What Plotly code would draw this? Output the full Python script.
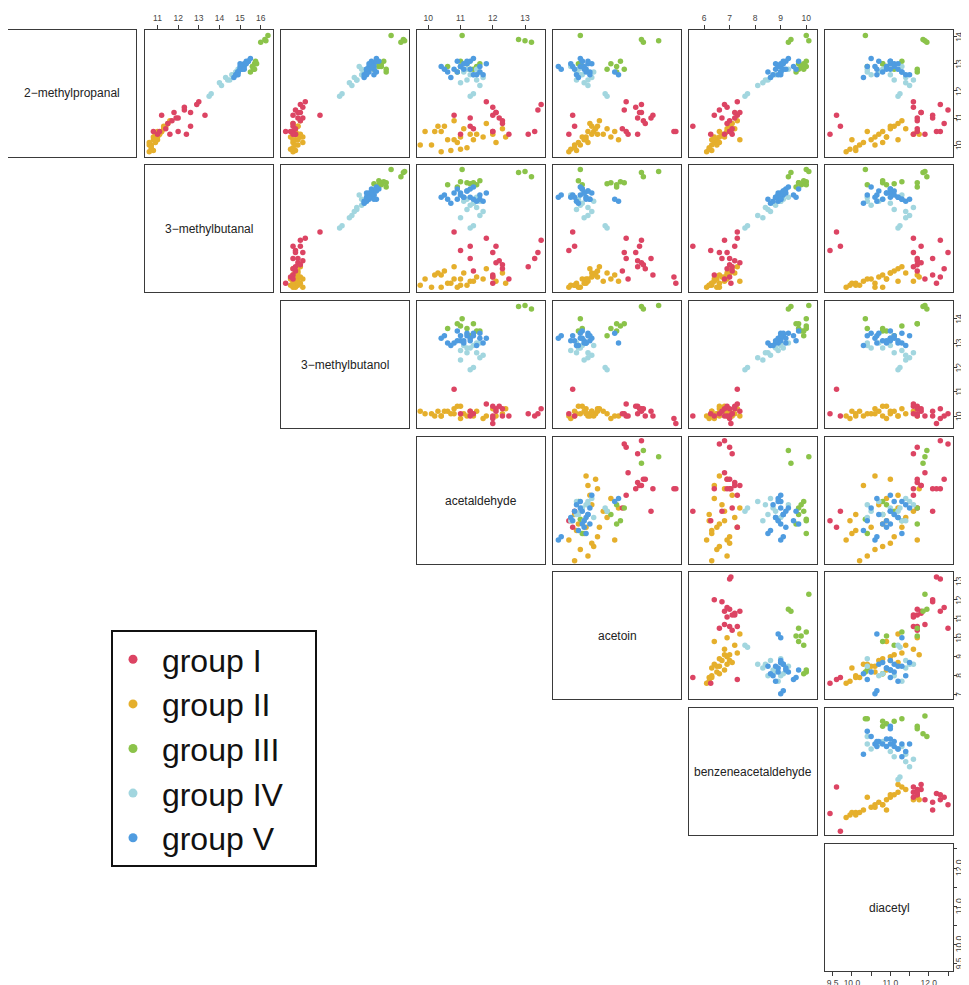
import plotly.graph_objects as go

# ---------------- data ----------------
VARIABLES = ["2−methylpropanal", "3−methylbutanal", "3−methylbutanol", "acetaldehyde",
             "acetoin", "benzeneacetaldehyde", "diacetyl"]
GROUPS = ["group I", "group II", "group III", "group IV", "group V"]
COLORS = {"group I": "#DC4463", "group II": "#E5AF2C", "group III": "#8BC34A",
          "group IV": "#A2D6DF", "group V": "#4F9CE0"}

methylpropanal_2 = {
    "group I": [11.1, 10.4, 10.7, 11.5, 11.3, 10.5, 10.4, 11.0, 11.2, 11.4, 10.9, 11.1, 10.5, 10.5, 11.6, 11.0, 10.8, 10.6, 11.2, 10.4],
    "group II": [9.75, 9.85, 9.8, 10.0, 10.1, 10.2, 10.3, 10.4, 10.5, 10.3, 10.6, 10.7, 10.8, 10.9, 10.5, 10.4, 10.5, 10.4, 10.0, 10.2, 10.6, 10.1, 10.3, 9.9, 10.7, 10.2],
    "group III": [14.05, 13.9, 13.85, 13.8, 13.0, 12.9, 12.8, 13.1, 12.7, 12.9, 13.0, 12.8],
    "group IV": [11.8, 11.9, 12.2, 12.3, 12.4, 12.6, 12.7, 12.8, 12.5, 12.9, 12.6, 12.8, 12.4, 12.7],
    "group V": [12.9, 12.8, 12.6, 12.7, 12.5, 12.9, 13.0, 13.1, 12.8, 12.7, 13.2, 12.6, 13.0, 12.9, 12.8, 12.7, 13.1, 12.9, 12.8, 13.0, 12.6, 13.1],
}
methylbutanal_3 = {
    "group I": [13.3, 12.4, 12.6, 12.9, 12.3, 12.0, 11.6, 11.9, 11.8, 12.3, 11.7, 11.2, 11.1, 10.8, 13.0, 12.0, 11.5, 11.4, 12.6, 11.0],
    "group II": [10.6, 10.7, 10.8, 10.7, 10.9, 11.0, 10.8, 11.1, 11.2, 11.0, 11.3, 11.4, 11.5, 11.6, 11.0, 10.9, 11.2, 11.1, 10.6, 10.8, 11.3, 10.6, 11.0, 10.7, 11.3, 10.9],
    "group III": [16.35, 16.2, 16.25, 16.0, 15.7, 15.6, 15.65, 15.75, 15.5, 15.6, 15.8, 15.7],
    "group IV": [13.5, 13.6, 14.1, 14.0, 14.4, 14.6, 14.8, 15.0, 14.3, 15.1, 14.7, 14.9, 14.5, 14.8],
    "group V": [15.0, 15.1, 14.8, 14.9, 14.7, 15.2, 15.3, 15.4, 15.0, 14.9, 15.5, 14.8, 15.2, 15.1, 15.0, 14.9, 15.3, 15.1, 15.2, 15.0, 14.9, 15.4],
}
methylbutanol_3 = {
    "group I": [11.1, 10.1, 10.0, 10.3, 10.1, 10.0, 10.1, 10.4, 10.2, 10.4, 10.3, 10.0, 9.9, 9.7, 10.5, 10.2, 10.0, 10.1, 10.3, 10.0],
    "group II": [10.0, 9.9, 10.1, 10.2, 10.0, 10.1, 10.3, 10.2, 10.0, 10.4, 10.1, 10.2, 10.0, 10.3, 10.1, 10.2, 10.0, 10.3, 10.1, 10.2, 10.1, 10.4, 9.9, 10.0, 10.2, 10.0],
    "group III": [14.0, 14.5, 14.55, 14.4, 13.6, 13.5, 13.3, 13.7, 13.8, 13.6, 13.5, 13.8],
    "group IV": [11.9, 12.0, 12.4, 12.3, 12.6, 12.8, 12.9, 13.0, 12.5, 12.7, 12.9, 12.8, 12.6, 13.0],
    "group V": [13.2, 13.3, 13.0, 13.4, 12.9, 13.1, 13.3, 13.2, 13.0, 13.1, 13.4, 12.9, 13.2, 13.3, 13.1, 13.0, 13.4, 13.2, 13.0, 13.1, 13.3, 13.5],
}
acetaldehyde = {
    "group I": [10.8, 11.0, 11.3, 13.5, 13.4, 13.3, 13.1, 12.2, 12.1, 12.0, 12.3, 12.0, 12.0, 12.0, 11.8, 11.3, 12.3, 11.4, 12.1, 12.5],
    "group II": [10.4, 11.0, 10.7, 9.75, 12.1, 10.8, 12.4, 11.5, 10.2, 11.0, 12.3, 10.5, 11.8, 10.8, 9.9, 11.3, 10.4, 12.0, 10.1, 10.6, 11.1, 10.9, 11.7, 11.2, 10.3, 11.4],
    "group III": [11.05, 12.8, 13.0, 13.2, 11.2, 11.5, 11.3, 11.0, 10.9, 10.6, 11.6, 11.4],
    "group IV": [11.3, 11.4, 11.6, 11.0, 11.2, 11.3, 11.1, 11.5, 11.7, 11.0, 11.4, 11.2, 11.5, 11.6],
    "group V": [10.4, 10.5, 11.7, 11.6, 10.7, 11.0, 11.2, 11.3, 11.1, 10.9, 11.4, 11.5, 11.8, 11.0, 11.3, 10.6, 11.2, 11.6, 10.8, 11.1, 11.4, 10.9],
}
acetoin = {
    "group I": [7.8, 7.6, 7.9, 11.4, 10.5, 10.6, 11.2, 11.2, 11.4, 11.1, 11.5, 12.0, 13.1, 13.2, 10.6, 11.9, 11.6, 10.4, 11.3, 10.7],
    "group II": [7.6, 7.7, 8.0, 7.9, 8.6, 8.5, 8.5, 8.8, 8.9, 8.3, 9.0, 9.1, 8.7, 9.2, 8.6, 9.4, 10.0, 9.1, 8.2, 8.4, 9.6, 8.1, 9.8, 7.9, 8.8, 10.2],
    "group III": [8.2, 11.4, 12.3, 11.5, 9.8, 10.1, 9.6, 10.3, 10.1, 8.3, 8.1, 10.5],
    "group IV": [9.6, 9.5, 8.6, 8.4, 8.0, 8.2, 8.9, 8.5, 8.8, 7.7, 8.3, 8.1, 8.6, 8.0],
    "group V": [7.05, 7.2, 10.2, 10.0, 8.1, 8.4, 8.6, 8.3, 8.5, 8.7, 8.2, 8.0, 8.8, 7.8, 7.9, 8.5, 8.6, 8.2, 8.4, 7.7, 8.7, 8.3],
}
benzeneacetaldehyde = {
    "group I": [7.3, 6.26, 5.56, 6.8, 6.6, 7.0, 7.1, 7.2, 7.4, 6.9, 7.0, 6.4, 7.0, 7.05, 7.3, 6.7, 6.9, 7.1, 7.2, 6.8],
    "group II": [6.1, 6.2, 6.3, 6.3, 6.4, 6.5, 6.6, 6.7, 6.6, 6.8, 6.9, 7.0, 7.1, 7.3, 6.9, 6.8, 6.9, 6.8, 6.5, 6.3, 7.2, 6.6, 6.4, 6.2, 7.0, 7.4],
    "group III": [10.0, 9.4, 10.1, 9.3, 9.7, 9.8, 9.9, 10.0, 9.6, 10.0, 9.9, 9.7],
    "group IV": [7.6, 7.7, 8.1, 8.3, 8.5, 8.8, 9.0, 9.3, 8.6, 8.9, 8.7, 9.1, 8.4, 9.0],
    "group V": [9.0, 9.1, 8.9, 9.0, 8.6, 8.9, 9.1, 9.2, 8.8, 9.0, 9.3, 8.7, 9.0, 9.5, 9.6, 8.5, 9.1, 8.9, 9.2, 8.8, 9.0, 9.7],
}
diacetyl = {
    "group I": [9.6, 9.43, 9.7, 12.3, 12.5, 11.7, 11.6, 11.7, 11.8, 11.6, 11.7, 12.1, 12.3, 12.2, 11.6, 12.1, 12.4, 11.7, 11.8, 11.9],
    "group II": [9.85, 9.95, 10.1, 10.2, 10.3, 10.5, 10.6, 10.7, 10.8, 10.9, 11.0, 11.1, 11.2, 11.3, 10.4, 11.6, 11.7, 11.75, 10.6, 10.0, 11.4, 10.8, 10.9, 10.1, 11.0, 11.2],
    "group III": [10.35, 11.85, 11.9, 11.95, 10.8, 10.9, 11.1, 11.3, 11.7, 10.4, 10.8, 11.7],
    "group IV": [11.2, 11.25, 11.5, 11.4, 11.1, 10.5, 10.4, 10.4, 11.4, 11.3, 11.0, 10.8, 11.6, 10.7],
    "group V": [10.6, 10.65, 10.65, 11.3, 10.3, 10.9, 11.1, 11.0, 11.2, 10.8, 10.5, 11.4, 11.0, 10.4, 11.0, 11.3, 10.7, 11.1, 10.9, 11.2, 11.5, 11.0],
}
DATA = [methylpropanal_2, methylbutanal_3, methylbutanol_3, acetaldehyde,
        acetoin, benzeneacetaldehyde, diacetyl]

# tick values / labels per variable
TICKS = [
    [10, 11, 12, 13, 14],
    [11, 12, 13, 14, 15, 16],
    [10, 11, 12, 13, 14],
    [10, 11, 12, 13],
    [7, 8, 9, 10, 11, 12, 13],
    [6, 7, 8, 9, 10],
    [9.5, 10.0, 10.5, 11.0, 11.5, 12.0, 12.5],
]
TICKTEXT = [
    ["10", "11", "12", "13", "14"],
    ["11", "12", "13", "14", "15", "16"],
    ["10", "11", "12", "13", "14"],
    ["10", "11", "12", "13"],
    ["7", "8", "9", "10", "11", "12", "13"],
    ["6", "7", "8", "9", "10"],
    ["9.5", "10.0", "", "11.0", "", "12.0", ""],
]

# ---------------- layout/style ----------------
AXIS_RANGES = [
    [9.56, 14.25], [10.37, 16.57], [9.51, 14.73], [9.65, 13.62],
    [6.77, 13.47], [5.41, 10.42], [9.30, 12.63],
]
OFF = 8  # page body margin
W, H = 969, 985
COL_LEFT = [c - OFF for c in [8, 144.5, 281, 417, 553, 689, 825]]
ROW_TOP = [r - OFF for r in [30, 165, 301, 437, 572, 708, 844]]
PW, PH = 128, 127
RIGHT_LABEL_X = 959 - OFF
DRAW_ORDER = ["group II", "group I", "group III", "group IV", "group V"]
LINE = "#3a3a3a"
FONT = "Liberation Sans, Arial, sans-serif"
TICKFONT = dict(family=FONT, size=8.5, color="#444")

fig = go.Figure()
layout = {}
annotations = []
n = 0
for i in range(7):
    for j in range(i, 7):
        n += 1
        xa = "xaxis" if n == 1 else f"xaxis{n}"
        ya = "yaxis" if n == 1 else f"yaxis{n}"
        xr = "x" if n == 1 else f"x{n}"
        yr = "y" if n == 1 else f"y{n}"
        xd = [COL_LEFT[j] / W, (COL_LEFT[j] + PW) / W]
        yd = [1 - (ROW_TOP[i] + PH) / H, 1 - ROW_TOP[i] / H]
        xax = dict(domain=xd, anchor=yr, range=AXIS_RANGES[j], showgrid=False,
                   zeroline=False, showline=True, mirror=True, linecolor=LINE,
                   linewidth=1.4, showticklabels=False, ticks="", fixedrange=True,
                   automargin=False)
        yax = dict(domain=yd, anchor=xr, range=AXIS_RANGES[i], showgrid=False,
                   zeroline=False, showline=True, mirror=True, linecolor=LINE,
                   linewidth=1.4, showticklabels=False, ticks="", fixedrange=True,
                   automargin=False)
        if i == 0 and j in (1, 3, 5):
            xax.update(side="top", ticks="outside", ticklen=4, tickcolor=LINE,
                       tickvals=TICKS[j], ticktext=TICKTEXT[j], showticklabels=True,
                       tickfont=TICKFONT)
        if j == 6 and i in (0, 2, 4, 6):
            yax.update(side="right", ticks="outside", ticklen=3, tickcolor=LINE,
                       tickvals=TICKS[i], showticklabels=False)
            # rotated right-hand tick labels (R style, parallel to the axis)
            for v, t in zip(TICKS[i], TICKTEXT[i]):
                if t:
                    annotations.append(dict(text=t, xref="paper", yref=yr,
                                            x=RIGHT_LABEL_X / W, y=v, textangle=-90,
                                            showarrow=False, xanchor="center",
                                            yanchor="middle", font=TICKFONT))
        if i == 6 and j == 6:
            xax.update(side="bottom", ticks="outside", ticklen=4, tickcolor=LINE,
                       tickvals=TICKS[6], ticktext=TICKTEXT[6], showticklabels=True,
                       tickfont=TICKFONT)
        layout[xa] = xax
        layout[ya] = yax
        if i == j:
            annotations.append(dict(text=VARIABLES[i], xref=f"{xr} domain", yref=f"{yr} domain",
                                    x=0.5, y=0.5, showarrow=False,
                                    font=dict(family=FONT, size=12, color="#222")))
            fig.add_trace(go.Scatter(x=[None], y=[None], xaxis=xr, yaxis=yr,
                                     showlegend=False, hoverinfo="skip"))
        else:
            for g in DRAW_ORDER:
                fig.add_trace(go.Scatter(
                    x=DATA[j][g], y=DATA[i][g], mode="markers", xaxis=xr, yaxis=yr,
                    marker=dict(color=COLORS[g], size=5.5, line=dict(width=0)),
                    showlegend=False, name=g))

# legend entries
for g in GROUPS:
    fig.add_trace(go.Scatter(x=[None], y=[None], mode="markers",
                             name="\u00a0" + g + "\u00a0\u00a0\u00a0", legendgroup=g,
                             xaxis="x", yaxis="y",
                             marker=dict(color=COLORS[g], size=9)))

fig.update_layout(**layout)
fig.update_layout(
    width=W, height=H, margin=dict(l=0, r=0, t=0, b=0, autoexpand=False),
    paper_bgcolor="white", plot_bgcolor="white",
    annotations=annotations,
    showlegend=True,
    legend=dict(x=(111 - OFF) / W, y=1 - (630 - OFF) / H, xanchor="left", yanchor="top",
                bordercolor="#111", borderwidth=2, bgcolor="white",
                font=dict(family=FONT, size=32, color="#111"),
                tracegroupgap=0, traceorder="grouped", itemsizing="trace"),
)

fig.write_html("out.html")
